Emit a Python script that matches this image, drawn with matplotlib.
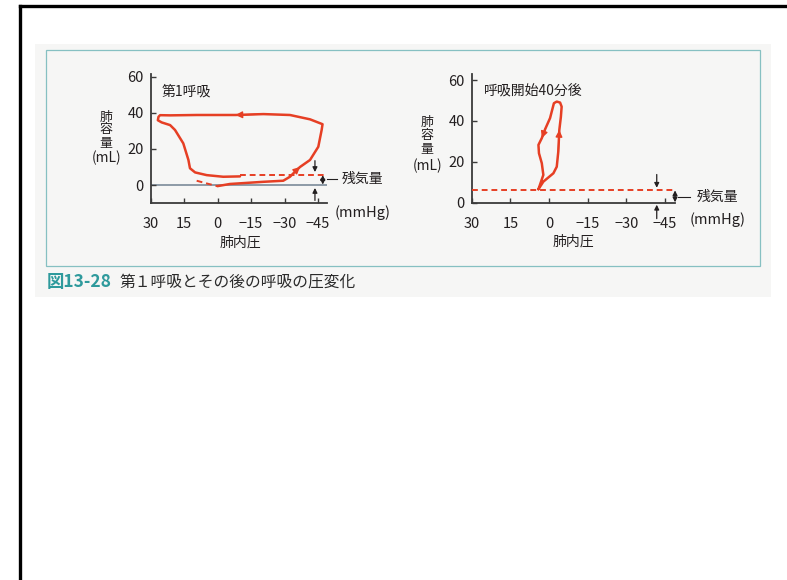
import matplotlib
matplotlib.use("Agg")
import matplotlib.pyplot as plt
from matplotlib.patches import Rectangle
from matplotlib.lines import Line2D

plt.rcParams['font.family'] = ['Noto Sans CJK JP', 'DejaVu Sans']

# ---- data -------------------------------------------------------------
pressure_ticks = [30, 15, 0, -15, -30, -45]
pressure_ticklabels = ['30', '15', '0', '\u221215', '\u221230', '\u221245']
volume_ticks = [0, 20, 40, 60]

# first breath: pressure (mmHg) / lung volume (mL)
first_p = [0.1, -5.5, -20.5, -29.4, -32.4, -35.4, -36.9, -41.4, -45.1, -46.6,
           -47.0, -41.4, -32.4, -20.5, -8.0, 9.4, 21.3, 25.8, 26.5, 26.8,
           25.1, 21.3, 19.1, 15.4, 13.1, 12.4, 10.1, 4.9, -2.5, -10.0]
first_v = [-0.6, 0.6, 1.8, 2.4, 4.6, 8.3, 10.0, 13.9, 21.2, 30.5,
           33.7, 36.4, 38.8, 39.3, 38.8, 38.8, 38.6, 38.7, 37.8, 35.9,
           34.7, 33.2, 30.5, 23.1, 13.9, 9.3, 7.0, 5.5, 4.6, 4.8]
first_start_p = [9.4, 4.9, 0.1]
first_start_v = [2.4, 0.9, -0.6]

# breathing 40 minutes after onset
later_p = [4.1, 2.2, -1.7, -3.0, -3.6, -4.0, -4.6, -4.9, -4.3, -3.0, -1.9,
           -0.4, 1.5, 2.8, 4.1, 3.9, 2.8, 2.2, 4.1]
later_v = [6.6, 10.3, 14.4, 17.6, 25.0, 35.6, 42.0, 47.0, 49.0, 49.5, 48.7,
           41.4, 36.0, 31.6, 28.3, 24.2, 19.3, 13.6, 6.6]

residual_volume = 6

# ---- figure -----------------------------------------------------------
W, H = 787, 580
fig = plt.figure(figsize=(W / 100, H / 100), dpi=100)
fig.patch.set_facecolor('white')

RED = '#e63f24'
INK = '#231f20'
AXC = '#3a3a3a'


def fbox(l, t, r, b):
    return [l / W, 1 - b / H, (r - l) / W, (b - t) / H]


def T(px, py, s, **kw):
    kw.setdefault('va', 'center')
    kw.setdefault('color', INK)
    kw.setdefault('fontsize', 10)
    return fig.text(px / W, 1 - py / H, s, **kw)


# page background, panel frame and outer border
fig.patches.append(Rectangle((35 / W, 1 - 297 / H), (771 - 35) / W, (297 - 44) / H,
                             transform=fig.transFigure, facecolor='#f6f6f5',
                             edgecolor='none', zorder=-2))
fig.patches.append(Rectangle((46 / W, 1 - 266 / H), (760 - 46) / W, (266 - 50) / H,
                             transform=fig.transFigure, facecolor='none',
                             edgecolor='#86c0c2', lw=0.9, zorder=-1))
fig.add_artist(Line2D([19.5 / W, 19.5 / W], [0, 1 - 6 / H], color='black',
                      lw=2.4, transform=fig.transFigure))
fig.add_artist(Line2D([19.5 / W, 1], [1 - 6 / H, 1 - 6 / H], color='black',
                      lw=2.4, transform=fig.transFigure))

ax1 = fig.add_axes(fbox(150.7, 74, 327, 203.3))
ax2 = fig.add_axes(fbox(471.7, 74, 675.3, 203.3))
ax1.set_xlim(30, -49)
ax1.set_ylim(-10.1, 61.5)
ax2.set_xlim(30, -49)
ax2.set_ylim(-0.3, 63)

for ax in (ax1, ax2):
    ax.set_zorder(2)
    ax.set_facecolor('none')
    for s in ('top', 'right'):
        ax.spines[s].set_visible(False)
    for s in ('left', 'bottom'):
        ax.spines[s].set_color(AXC)
        ax.spines[s].set_linewidth(1.3)
    ax.set_xticks(pressure_ticks)
    ax.set_xticklabels(pressure_ticklabels)
    ax.set_yticks(volume_ticks)
    ax.tick_params(direction='in', length=3.5, width=1, color=AXC,
                   labelsize=10.5, labelcolor=INK)
    ax.tick_params(axis='x', pad=10)
    ax.tick_params(axis='y', pad=5)


def curve_arrow(ax, p, v, i):
    ax.annotate('', xy=(p[i], v[i]), xytext=(p[i - 1], v[i - 1]),
                arrowprops=dict(arrowstyle='-|>', color=RED, lw=1,
                                mutation_scale=10, shrinkA=0, shrinkB=0))


def small_arrow(ax, x, y0, y1, style='-|>'):
    ax.annotate('', xy=(x, y1), xytext=(x, y0), annotation_clip=False,
                arrowprops=dict(arrowstyle=style, color=INK, lw=0.9,
                                mutation_scale=7, shrinkA=0, shrinkB=0))


# left panel: first breath
ax1.axhline(0, color='#7b8a99', lw=1.2, zorder=1)
ax1.plot(first_p, first_v, color=RED, lw=1.8, solid_joinstyle='round',
         solid_capstyle='round', zorder=3)
ax1.plot(first_start_p, first_start_v, color=RED, lw=1.4, ls=(0, (3, 2)), zorder=3)
ax1.plot([-10, -48], [residual_volume - 0.2] * 2, color=RED, lw=1.4,
         ls=(0, (3, 2)), zorder=3)
curve_arrow(ax1, first_p, first_v, 6)
curve_arrow(ax1, first_p, first_v, 14)
small_arrow(ax1, -43.6, 13.5, 7.2)
small_arrow(ax1, -43.6, -8.5, -1.6)
small_arrow(ax1, -47.1, 0.3, residual_volume - 0.5, '<|-|>')
ax1.add_line(Line2D([-49.0, -53.5], [3.2, 3.2], color=INK, lw=0.8, clip_on=False))

# right panel: 40 minutes after onset
ax2.plot(later_p, later_v, color=RED, lw=1.8, solid_joinstyle='round',
         solid_capstyle='round', zorder=3)
ax2.plot([30, -48], [residual_volume + 0.2] * 2, color=RED, lw=1.4,
         ls=(0, (3, 2)), zorder=3)
curve_arrow(ax2, later_p, later_v, 5)
curve_arrow(ax2, later_p, later_v, 13)
small_arrow(ax2, -41.8, 13.8, 7.3)
small_arrow(ax2, -41.8, -7.8, -1.0)
small_arrow(ax2, -48.9, 0.2, residual_volume, '<|-|>')
ax2.add_line(Line2D([-50.1, -54.8], [2.9, 2.9], color=INK, lw=0.8, clip_on=False))

# panel texts
T(161.7, 91.7, '第1呼吸', ha='left')
T(484, 90.7, '呼吸開始40分後', ha='left')
T(240, 242.7, '肺内圧', ha='center')
T(573, 241.7, '肺内圧', ha='center')
T(335, 212.7, '(mmHg)', ha='left', fontsize=10.5)
T(690, 220, '(mmHg)', ha='left', fontsize=10.5)
T(341.7, 179.3, '残気量', ha='left')
T(697, 197.3, '残気量', ha='left')

for (x0, ys, ym) in ((106, (117, 130, 143), 158), (427, (122, 135.5, 149), 166)):
    for ch, yy in zip('肺容量', ys):
        T(x0, yy, ch, ha='center', fontsize=9.3)
    T(x0 + 1, ym, '(mL)', ha='center')

# caption
T(46.5, 281.7, '図13-28', ha='left', fontsize=12.5, color='#2e9a9c',
  fontweight='bold')
T(119, 281.7, '第１呼吸とその後の呼吸の圧変化', ha='left', fontsize=11.3,
  color='#2b2b2b')

fig.savefig('out.png', dpi=100)
